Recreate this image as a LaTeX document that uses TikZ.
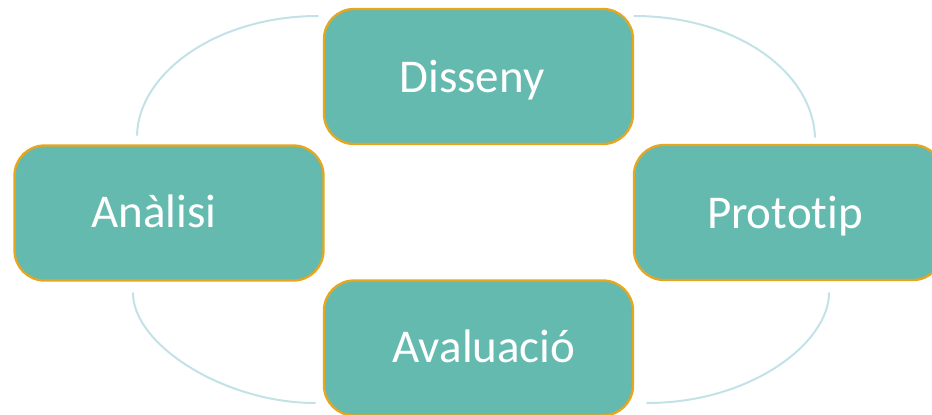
\documentclass[tikz,border=0pt]{standalone}
\usepackage{fontspec}
\setmainfont{Carlito}[Ligatures={NoCommon,NoRequired,NoContextual}]
\definecolor{boxfill}{HTML}{65BAAF}
\definecolor{boxline}{HTML}{E8A61C}
\definecolor{arcline}{HTML}{C2E2E8}
\tikzset{
  stagebox/.style={draw=boxline, fill=boxfill, line width=2.3pt, rounded corners=30pt,
    minimum width=309pt, minimum height=135pt, inner sep=0pt},
  stagetext/.style={text=white, font=\fontsize{47}{50}\selectfont, inner sep=0pt, anchor=base},
  cyclearc/.style={draw=arcline, line width=2pt, line cap=round}
}
\begin{document}
\begin{tikzpicture}[x=1pt,y=-1pt]
\useasboundingbox (0,0) rectangle (932,415);
\clip (0,0) rectangle (932,415);
% arcs of the cycle
\coordinate (tl0) at (137,135);
\coordinate (tl1) at (318,16);
\coordinate (tr0) at (634,16);
\coordinate (tr1) at (815,137);
\coordinate (br0) at (829,293);
\coordinate (br1) at (647,403);
\coordinate (bl0) at (133,293);
\coordinate (bl1) at (315,403);
\draw[cyclearc] (tl0) .. controls (139,72) and (218,16) .. (tl1);
\draw[cyclearc] (tr0) .. controls (734,16) and (812,70) .. (tr1);
\draw[cyclearc] (br0) .. controls (829,342) and (752,403) .. (br1);
\draw[cyclearc] (bl0) .. controls (133,345) and (225,403) .. (bl1);
% boxes
\node[stagebox] (disseny) at (478.5,76.5) {};
\node[stagebox] (analisi) at (169,213) {};
\node[stagebox] (prototip) at (788.5,212.5) {};
\node[stagebox] (avaluacio) at (478.5,348) {};
% labels
\node[stagetext] (tdisseny) at (472,92) {Disseny};
\node[stagetext] (tanalisi) at (154,227) {Anàlisi};
\node[stagetext] (tprototip) at (785,228) {Prototip};
\node[stagetext] (tavaluacio) at (484,362) {Avaluació};
\end{tikzpicture}
\end{document}
